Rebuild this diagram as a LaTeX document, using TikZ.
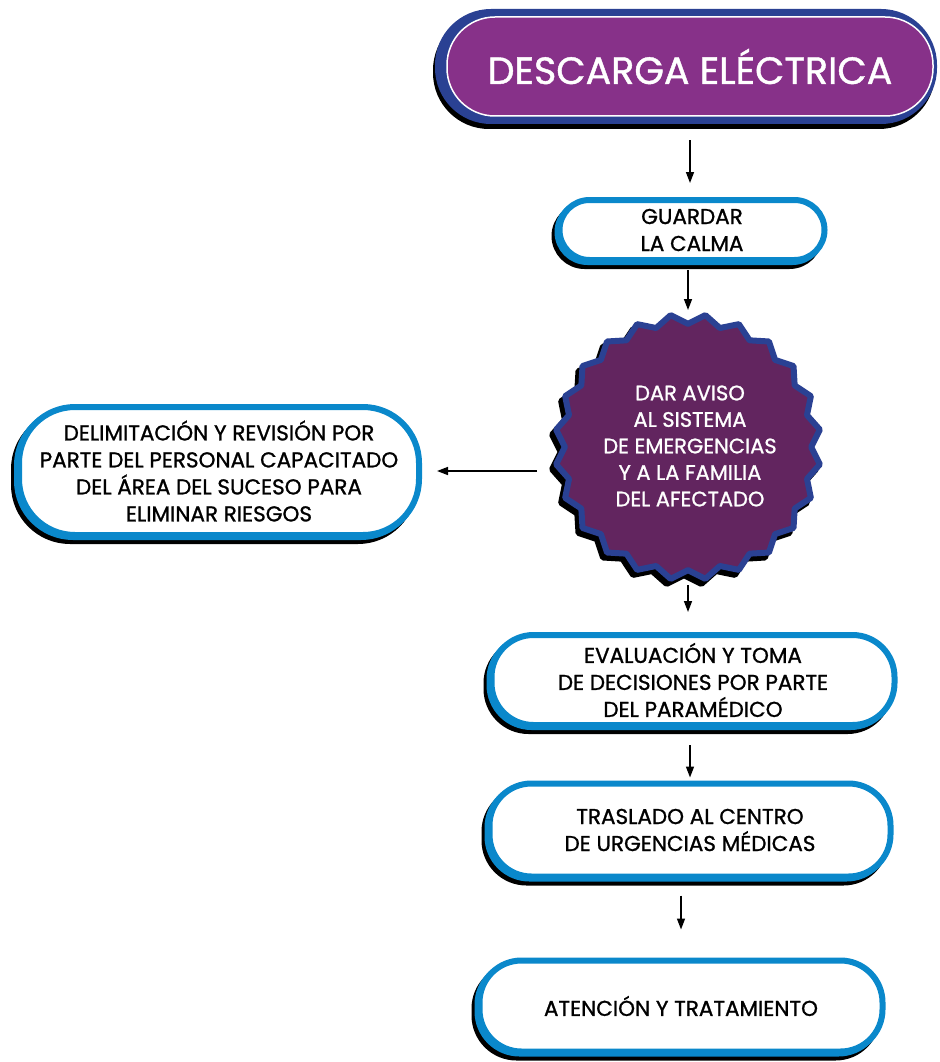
\documentclass[tikz,border=0pt]{standalone}
\usepackage{fontspec}
\setmainfont{Poppins}[FakeBold=1.1]
\usetikzlibrary{shapes.geometric,shadows,arrows.meta}
\definecolor{lblue}{HTML}{0A88CB}
\definecolor{dblue}{HTML}{2A4193}
\definecolor{tpurple}{HTML}{873189}
\definecolor{spurple}{HTML}{62255F}
\begin{document}
\begin{tikzpicture}[x=1pt,y=-1pt,
 box/.style={draw=lblue, fill=white, line width=6pt, rounded corners=#1, outer sep=0pt, inner sep=0pt,
   align=center, font=\fontsize{21.5}{27}\selectfont,
   general shadow={shadow xshift=-5pt, shadow yshift=-6pt, fill=black, draw=black, line width=6pt},
   general shadow={shadow xshift=-2pt, shadow yshift=-2pt, fill=lblue, draw=lblue, line width=6pt}},
 box/.default=30pt,
 titlebox/.style={fill=tpurple, draw=white, line width=1.5pt, rounded corners=48pt, outer sep=0pt, inner sep=0pt,
   text=white, font=\fontsize{38}{40}\selectfont,
   general shadow={shadow xshift=-6pt, shadow yshift=-5pt, fill=black, draw=black, line width=16pt},
   general shadow={shadow xshift=-4pt, shadow yshift=0pt, fill=dblue, draw=dblue, line width=16pt}},
 burst/.style={star, star points=24, star point ratio=1.08, shape border rotate=7.5, inner sep=0pt, outer sep=0pt,
   fill=spurple, draw=dblue, line width=6pt, line join=round,
   general shadow={shadow xshift=-4pt, shadow yshift=-5pt, fill=black, draw=black, line width=6pt}},
 bursttext/.style={text=white, align=center, font=\fontsize{21}{26.5}\selectfont},
 arr/.style={line width=1.5pt, -{Triangle[width=8pt,length=11pt]}}]
\useasboundingbox (0,0) rectangle (939,1062);

\node[titlebox, minimum width=486pt, minimum height=99pt] (title) at (690,66.5) {DESCARGA ELÉCTRICA};

\node[box=30pt, minimum width=265pt, minimum height=60pt] (guardar) at (692,230) {GUARDAR\\LA CALMA};

\node[burst, minimum size=266pt] (aviso) at (688,447) {};
\node[bursttext] (avisotxt) at (690,446) {DAR AVISO\\AL SISTEMA\\DE EMERGENCIAS\\Y A LA FAMILIA\\DEL AFECTADO};

\node[box=56pt, minimum width=400pt, minimum height=128pt] (delim) at (219,471)
  {DELIMITACIÓN Y REVISIÓN POR\\PARTE DEL PERSONAL CAPACITADO\\DEL ÁREA DEL SUCESO PARA\\ELIMINAR RIESGOS};

\node[box=42pt, minimum width=403pt, minimum height=90pt] (eval) at (693,680)
  {EVALUACIÓN Y TOMA\\DE DECISIONES POR PARTE\\DEL PARAMÉDICO};

\node[box=42pt, minimum width=401pt, minimum height=93pt] (traslado) at (690,830)
  {TRASLADO AL CENTRO\\DE URGENCIAS MÉDICAS};

\node[box=42pt, minimum width=403pt, minimum height=91pt] (atencion) at (681,1006)
  {ATENCIÓN Y TRATAMIENTO};

\draw[arr, shorten <=24pt, shorten >=17pt] (title.south) -- (title.south |- guardar.north);
\draw[arr, shorten <=10pt, shorten >=137pt] (aviso.center |- guardar.south) -- (aviso.center);
\draw[arr, shorten <=151pt, shorten >=18pt] (aviso.center |- delim.east) -- (delim.east);
\draw[arr, shorten <=138pt, shorten >=23pt] (aviso.center) -- (aviso.center |- eval.north);
\draw[arr, shorten <=20pt, shorten >=6pt] (traslado.north |- eval.south) -- (traslado.north);
\draw[arr, shorten <=19pt, shorten >=31pt] (atencion.north |- traslado.south) -- (atencion.north);
\end{tikzpicture}
\end{document}
